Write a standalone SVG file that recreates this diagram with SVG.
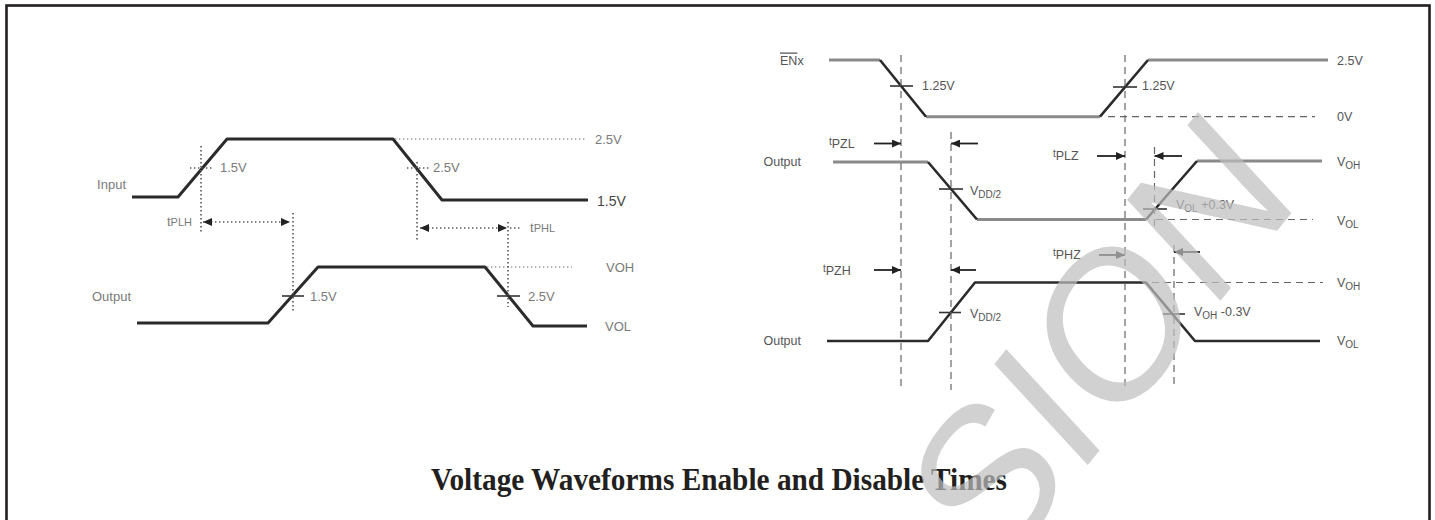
<svg xmlns="http://www.w3.org/2000/svg" width="1435" height="520" viewBox="0 0 1435 520">
<defs>
<style>
.wl{fill:none;stroke:#2b2b2b;stroke-width:3;stroke-linejoin:round}
.wg{fill:none;stroke:#8a8a8a;stroke-width:3}
.wd{fill:none;stroke:#2b2b2b;stroke-width:2.6;stroke-linejoin:round}
.dot{fill:none;stroke:#555;stroke-width:1.6;stroke-dasharray:1.4 2.6}
.lvl{fill:none;stroke:#9a9a9a;stroke-width:1.6;stroke-dasharray:1.4 2.6}
.dash{fill:none;stroke:#666;stroke-width:1.2;stroke-dasharray:7 5}
.tick{stroke:#333;stroke-width:1.6}
.arr{stroke:#222;stroke-width:1.8;fill:none}
.lt{font-family:"Liberation Sans",Arial,sans-serif;font-size:13px;fill:#7a7a7a}
.rt{font-family:"Liberation Sans",Arial,sans-serif;font-size:12.5px;fill:#555}
.sm{font-size:10px}
.ls{font-size:11px}
</style>
<marker id="ah" viewBox="0 0 9 8" refX="9" refY="4" markerWidth="9" markerHeight="8" markerUnits="userSpaceOnUse" orient="auto-start-reverse"><path d="M0,0L9,4L0,8z" fill="#222"/></marker>
</defs>
<rect id="frame" x="6.5" y="5.5" width="1423" height="560" fill="none" stroke="#231f20" stroke-width="2.6"/>

<g id="left-input">
<polyline class="wl" points="132,197 178,197 227,139 393,139 442,200 588,200"/>
<line class="lvl" x1="395" y1="139" x2="587" y2="139"/>
<text class="lt" x="126" y="189" text-anchor="end">Input</text>
<text class="lt" x="595" y="144">2.5V</text>
<text class="lt" x="597" y="206" style="fill:#444;font-size:14px">1.5V</text>
<line class="dot" x1="190" y1="168" x2="212" y2="168"/>
<line class="dot" x1="407" y1="168" x2="430" y2="168"/>
<text class="lt" x="220" y="172">1.5V</text>
<text class="lt" x="433" y="172">2.5V</text>
</g>
<g id="left-output">
<polyline class="wl" points="137,323 268,323 318,267 485,267 533,326 587,326"/>
<line class="lvl" x1="487" y1="267" x2="572" y2="267"/>
<text class="lt" x="131" y="301" text-anchor="end">Output</text>
<text class="lt" x="606" y="272">VOH</text>
<text class="lt" x="605" y="331">VOL</text>
<line class="tick" x1="282" y1="296" x2="304" y2="296"/>
<line class="tick" x1="497" y1="296" x2="520" y2="296"/>
<text class="lt" x="310" y="301">1.5V</text>
<text class="lt" x="528" y="301">2.5V</text>
</g>

<g id="right-enx">
<path class="wg" d="M829,60H880M926,116.7H1100M1148,60H1328"/>
<path class="wd" d="M880,60L926,116.7M1100,116.7L1148,60"/>
<line class="dash" x1="1108" y1="116.7" x2="1315" y2="116.7"/>
<text class="rt" x="780" y="64.5"><tspan style="text-decoration:overline">EN</tspan>x</text>
<text class="rt" x="1337" y="64.5">2.5V</text>
<text class="rt" x="1337" y="121">0V</text>
<line class="tick" x1="890" y1="86" x2="913" y2="86"/>
<line class="tick" x1="1113" y1="87" x2="1137" y2="87"/>
<text class="rt" x="922" y="90">1.25V</text>
<text class="rt" x="1142" y="90">1.25V</text>
</g>
<g id="right-output1">
<path class="wg" d="M833,162H928M977,219.5H1146M1197,161H1322"/>
<path class="wd" d="M928,162L977,219.5M1146,219.5L1197,161"/>
<line class="dash" x1="1156" y1="219.5" x2="1313" y2="219.5"/>
<text class="rt" x="801" y="166" text-anchor="end">Output</text>
<text class="rt" x="1337" y="166">V<tspan class="sm" dy="3">OH</tspan></text>
<text class="rt" x="1337" y="225">V<tspan class="sm" dy="3">OL</tspan></text>
<line class="tick" x1="939" y1="189" x2="963" y2="189"/>
<line class="tick" x1="1143" y1="209" x2="1167" y2="209"/>
<text class="rt" x="970" y="195">V<tspan class="sm" dy="3">DD/2</tspan></text>
<text class="rt" x="1176" y="209">V<tspan class="sm" dy="3">OL</tspan><tspan dy="-3"> +0.3V</tspan></text>
</g>
<g id="right-output2">
<path class="wd" d="M827,341H928L975,282.5H1146L1195,341H1320"/>
<line class="dash" x1="1152" y1="282.5" x2="1323" y2="282.5"/>
<text class="rt" x="801" y="345" text-anchor="end">Output</text>
<text class="rt" x="1337" y="287">V<tspan class="sm" dy="3">OH</tspan></text>
<text class="rt" x="1337" y="345">V<tspan class="sm" dy="3">OL</tspan></text>
<line class="tick" x1="939" y1="312.5" x2="961" y2="312.5"/>
<line class="tick" x1="1163" y1="314" x2="1185" y2="314"/>
<text class="rt" x="970" y="318">V<tspan class="sm" dy="3">DD/2</tspan></text>
<text class="rt" x="1194" y="316">V<tspan class="sm" dy="3">OH</tspan><tspan dy="-3"> -0.3V</tspan></text>
</g>

<g id="connectors">
<line class="dot" x1="201" y1="146" x2="201" y2="232"/>
<line class="dot" x1="417" y1="162" x2="417" y2="242"/>
<line class="dot" x1="293" y1="213" x2="293" y2="312"/>
<line class="dot" x1="508" y1="222" x2="508" y2="307"/>
<line class="dot" x1="203" y1="222" x2="290" y2="222" marker-start="url(#ah)" marker-end="url(#ah)"/>
<line class="dot" x1="420" y1="228" x2="507" y2="228" marker-start="url(#ah)" marker-end="url(#ah)"/>
<line class="dot" x1="510" y1="228" x2="521" y2="228"/>
<text class="lt" x="192" y="226" text-anchor="end">t<tspan class="ls">PLH</tspan></text>
<text class="lt" x="530" y="232">t<tspan class="ls">PHL</tspan></text>

<line class="dash" x1="901" y1="55" x2="901" y2="390"/>
<line class="dash" x1="951" y1="132" x2="951" y2="390"/>
<line class="dash" x1="1125" y1="55" x2="1125" y2="390"/>
<line class="dash" x1="1154.5" y1="147" x2="1154.5" y2="228"/>
<line class="dash" x1="1174" y1="245" x2="1174" y2="387"/>
<line class="arr" x1="874" y1="143.5" x2="901" y2="143.5" marker-end="url(#ah)"/>
<line class="arr" x1="978" y1="143.5" x2="951" y2="143.5" marker-end="url(#ah)"/>
<line class="arr" x1="1097" y1="156" x2="1125" y2="156" marker-end="url(#ah)"/>
<line class="arr" x1="1182" y1="156" x2="1154.5" y2="156" marker-end="url(#ah)"/>
<line class="arr" x1="1099" y1="255" x2="1125" y2="255" marker-end="url(#ah)"/>
<line class="arr" x1="1200" y1="252" x2="1174" y2="252" marker-end="url(#ah)"/>
<line class="arr" x1="874" y1="270" x2="901" y2="270" marker-end="url(#ah)"/>
<line class="arr" x1="976" y1="270" x2="951" y2="270" marker-end="url(#ah)"/>
<text class="rt" x="829" y="148"><tspan class="sm" dy="-3">t</tspan><tspan dy="3">PZL</tspan></text>
<text class="rt" x="1053" y="160"><tspan class="sm" dy="-3">t</tspan><tspan dy="3">PLZ</tspan></text>
<text class="rt" x="1053" y="259"><tspan class="sm" dy="-3">t</tspan><tspan dy="3">PHZ</tspan></text>
<text class="rt" x="823" y="275"><tspan class="sm" dy="-3">t</tspan><tspan dy="3">PZH</tspan></text>
</g>

<text id="title" x="431" y="490" textLength="576" lengthAdjust="spacingAndGlyphs" font-family="'Liberation Serif','Times New Roman',serif" font-weight="bold" font-size="31" fill="#231f20">Voltage Waveforms Enable and Disable Times</text>
<text id="watermark" x="0" y="0" transform="translate(991.3 584.1) scale(0.864 1) rotate(-46.9)" font-family="'Liberation Sans',Arial,sans-serif" font-size="215" fill="#bdbdbd" fill-opacity="0.7">SION</text>
</svg>
